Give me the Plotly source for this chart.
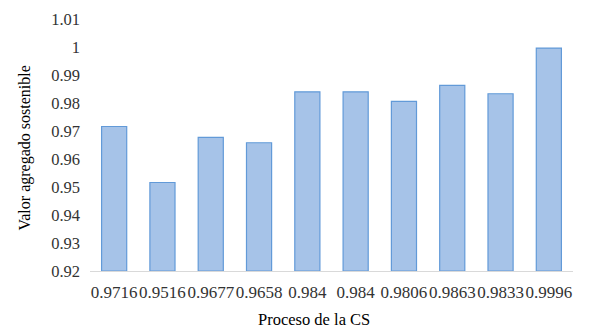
import plotly.graph_objects as go

categories = ["0.9716", "0.9516", "0.9677", "0.9658", "0.984", "0.984", "0.9806", "0.9863", "0.9833", "0.9996"]
values = [0.9716, 0.9516, 0.9677, 0.9658, 0.984, 0.984, 0.9806, 0.9863, 0.9833, 0.9996]
y_ticks = [0.92, 0.93, 0.94, 0.95, 0.96, 0.97, 0.98, 0.99, 1.0, 1.01]
y_tick_labels = ["0.92", "0.93", "0.94", "0.95", "0.96", "0.97", "0.98", "0.99", "1", "1.01"]
x_title = "Proceso de la CS"
y_title = "Valor agregado sostenible"

positions = list(range(len(categories)))

fig = go.Figure(go.Bar(
    x=positions,
    y=[v - 0.92 for v in values],
    base=0.92,
    marker=dict(color="#a6c3e8", line=dict(color="#629ad8", width=1.2)),
    width=0.52,
))

font = "Liberation Serif, Times New Roman, serif"
fig.update_layout(
    width=590, height=329,
    margin=dict(l=90, r=17, t=19, b=58, autoexpand=False),
    plot_bgcolor="white", paper_bgcolor="white",
    showlegend=False,
    font=dict(family=font, size=16, color="#404040"),
    xaxis=dict(
        tickvals=positions, ticktext=categories,
        range=[-0.5, len(categories) - 0.5],
        showline=True, linecolor="#d9d9d9", linewidth=1,
        showgrid=False, zeroline=False, ticks="",
        automargin=False, tickangle=0,
        ticklabelstandoff=6,
        tickfont=dict(family=font, size=17, color="#333333"),
    ),
    yaxis=dict(
        range=[0.92, 1.01],
        tickvals=y_ticks, ticktext=y_tick_labels,
        showline=False, showgrid=False, zeroline=False, ticks="",
        automargin=False,
        ticklabelstandoff=9,
        tickfont=dict(family=font, size=16.5, color="#333333"),
    ),
    annotations=[
        dict(text=x_title, xref="paper", yref="paper", x=0.464, y=-0.194,
             xanchor="center", yanchor="middle", showarrow=False,
             font=dict(family=font, size=16.5, color="#000000")),
        dict(text=y_title, xref="paper", yref="paper", x=-0.1346, y=0.49,
             xanchor="center", yanchor="middle", showarrow=False, textangle=-90,
             font=dict(family=font, size=16, color="#000000")),
    ],
)

fig.write_html("out.html", config={"displayModeBar": False},
               post_script="document.body.style.margin='0';")
